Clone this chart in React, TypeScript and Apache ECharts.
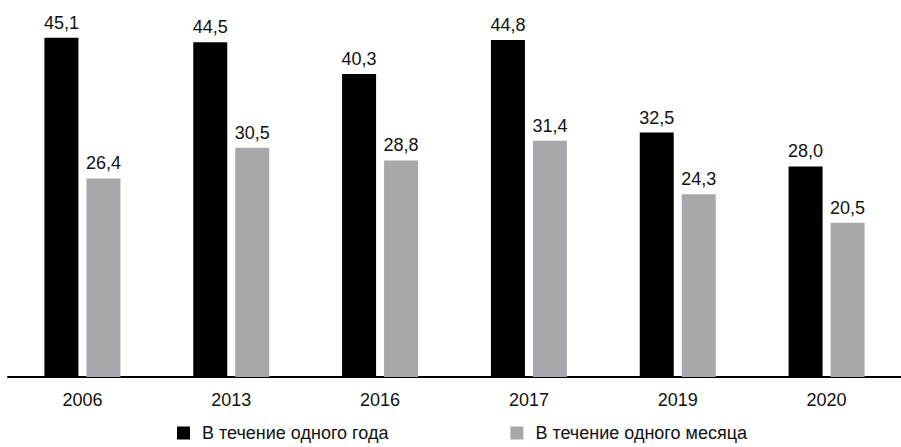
import React, { useEffect, useRef } from "react";
import * as echarts from "echarts";

const categories = ["2006", "2013", "2016", "2017", "2019", "2020"];
const seriesNames = ["В течение одного года", "В течение одного месяца"];
const yearValues = [45.1, 44.5, 40.3, 44.8, 32.5, 28.0];
const monthValues = [26.4, 30.5, 28.8, 31.4, 24.3, 20.5];

const FONT = "'Liberation Sans', Arial, sans-serif";

export default function App() {
  const ref = useRef<HTMLDivElement>(null);
  useEffect(() => {
    document.body.style.margin = "0";
    const chart = echarts.init(ref.current!, null, { renderer: "svg" });
    const label = {
      show: true,
      position: "top",
      distance: 6,
      color: "#111",
      fontSize: 18,
      fontFamily: FONT,
      formatter: (p: any) => Number(p.value).toFixed(1).replace(".", ","),
    };
    chart.setOption({
      animation: false,
      backgroundColor: "#fff",
      grid: { left: 8, right: -7, top: 1, bottom: 70, containLabel: false },
      legend: {
        left: 177,
        top: 424,
        padding: 0,
        icon: "rect",
        itemWidth: 13,
        itemHeight: 13,
        itemGap: 122,
        textStyle: { fontSize: 18, lineHeight: 18, fontFamily: FONT, color: "#111", padding: [0, 0, 0, 7] },
        data: seriesNames,
      },
      xAxis: {
        type: "category",
        data: categories,
        axisLine: { show: true, lineStyle: { color: "#000", width: 2 } },
        axisTick: { show: false },
        axisLabel: { fontSize: 18, fontFamily: FONT, color: "#111", margin: 14 },
      },
      yAxis: {
        type: "value",
        min: 0,
        max: 50,
        show: false,
        splitLine: { show: false },
      },
      series: [
        {
          name: seriesNames[0],
          type: "bar",
          data: yearValues,
          barWidth: 34,
          barGap: "23.5%",
          itemStyle: { color: "#000" },
          label,
        },
        {
          name: seriesNames[1],
          type: "bar",
          data: monthValues,
          barWidth: 34,
          barGap: "23.5%",
          itemStyle: { color: "#a7a8ab" },
          label,
        },
      ],
    });
    return () => chart.dispose();
  }, []);
  return <div ref={ref} style={{ width: 901, height: 447 }} />;
}
